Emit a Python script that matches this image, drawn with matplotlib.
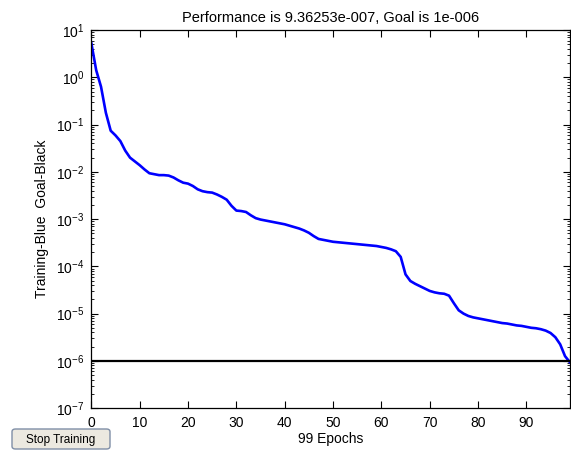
import numpy as np
import matplotlib
matplotlib.use("Agg")
import matplotlib.pyplot as plt
from matplotlib.patches import FancyBboxPatch
from matplotlib.ticker import LogLocator, FixedLocator

plt.rcParams['font.family'] = ['Liberation Sans', 'DejaVu Sans']

# Training performance per epoch, as log10 values
epochs = list(range(100))
perf_log10 = [
    0.72, 0.15, -0.20, -0.75, -1.13, -1.23, -1.35, -1.55, -1.70, -1.78,
    -1.86, -1.95, -2.03, -2.05, -2.07, -2.07, -2.08, -2.12, -2.18, -2.23,
    -2.25, -2.30, -2.37, -2.41, -2.43, -2.44, -2.48, -2.53, -2.59, -2.72,
    -2.82, -2.83, -2.85, -2.92, -2.98, -3.01, -3.03, -3.05, -3.07, -3.09,
    -3.11, -3.14, -3.17, -3.20, -3.24, -3.29, -3.36, -3.42, -3.44, -3.46,
    -3.48, -3.49, -3.50, -3.51, -3.52, -3.53, -3.54, -3.55, -3.56, -3.57,
    -3.59, -3.61, -3.64, -3.68, -3.80, -4.17, -4.31, -4.37, -4.42, -4.47,
    -4.52, -4.55, -4.57, -4.58, -4.62, -4.78, -4.93, -5.00, -5.05, -5.08,
    -5.10, -5.12, -5.14, -5.16, -5.18, -5.20, -5.21, -5.23, -5.25, -5.26,
    -5.28, -5.30, -5.31, -5.33, -5.36, -5.41, -5.50, -5.65, -5.90, -6.0286,
]
performance = [10 ** v for v in perf_log10]
goal = 1e-6
x_ticks = [0, 10, 20, 30, 40, 50, 60, 70, 80, 90]
title_text = "Performance is 9.36253e-007, Goal is 1e-006"

fig = plt.figure(figsize=(5.71, 4.55), dpi=100)
ax = fig.add_axes([0.160, 0.103, 0.838, 0.831])

ax.plot(epochs, performance, color='#0000ff', lw=1.9, solid_joinstyle='round')
ax.axhline(goal, color='black', lw=1.6)

ax.set_yscale('log')
ax.set_xlim(0, 99)
ax.set_ylim(1e-7, 1e1)
ax.xaxis.set_major_locator(FixedLocator(x_ticks))
ax.yaxis.set_major_locator(LogLocator(base=10, numticks=20))
ax.yaxis.set_minor_locator(LogLocator(base=10, subs=np.arange(2, 10), numticks=20))

ax.tick_params(axis='both', which='both', direction='in', top=True, right=True,
               labelsize=10, colors='black')
ax.tick_params(axis='x', which='major', pad=6)
ax.tick_params(axis='y', which='major', pad=5)
ax.tick_params(axis='both', which='major', length=5, width=0.8)
ax.tick_params(axis='y', which='minor', length=2.5, width=0.6)
for s in ax.spines.values():
    s.set_linewidth(0.9)

ax.set_title(title_text, fontsize=10.5, pad=6)
ax.set_xlabel("99 Epochs", fontsize=10, labelpad=1)
ax.set_ylabel("Training-Blue  Goal-Black", fontsize=10, labelpad=5)

# "Stop Training" button
btn = FancyBboxPatch((12 / 571, 1 - 449 / 455), 98 / 571, 20 / 455,
                     boxstyle="round,pad=0,rounding_size=0.006",
                     transform=fig.transFigure, facecolor='#ece9e0',
                     edgecolor='#7f8ea6', lw=1.0)
fig.patches.append(btn)
fig.text(61 / 571, 1 - 443 / 455, "Stop Training", ha='center', va='baseline',
         fontsize=8.5)

fig.savefig("out.png", dpi=100)
